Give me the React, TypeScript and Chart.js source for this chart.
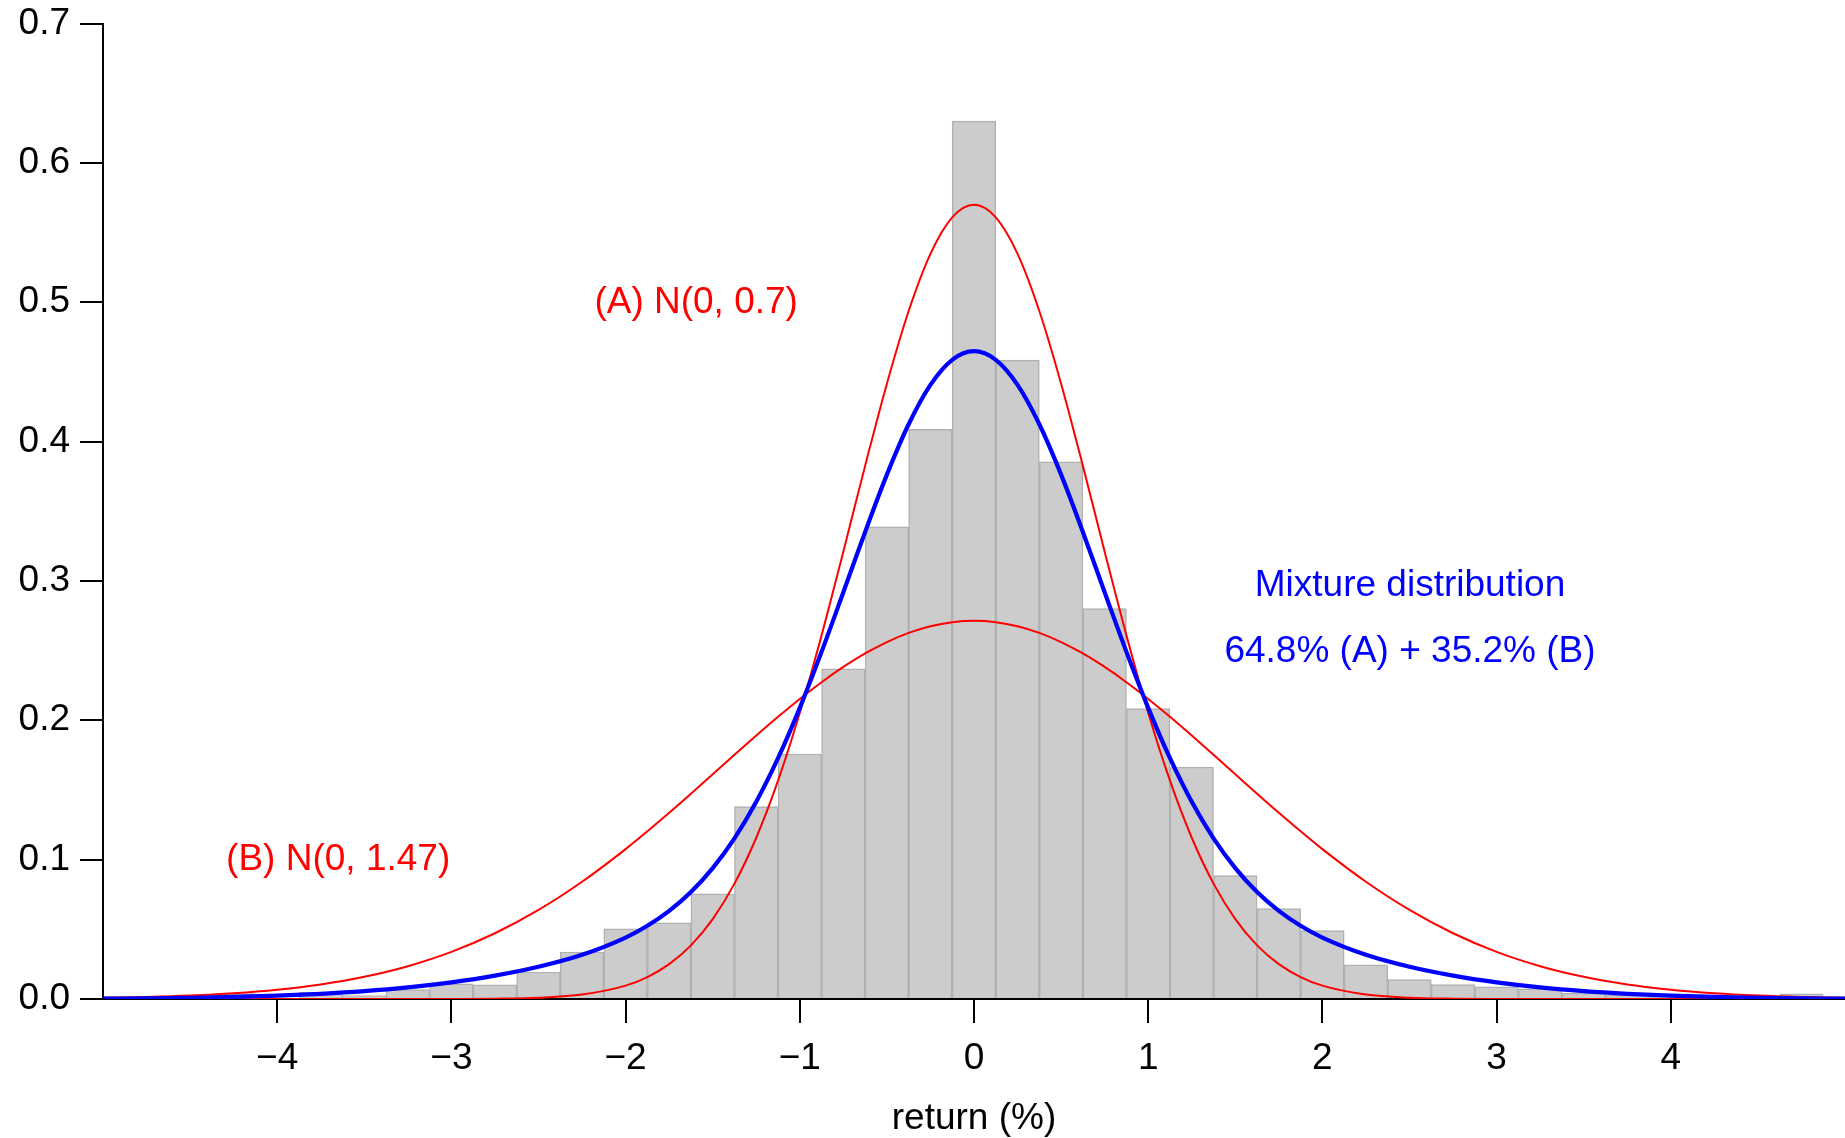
import React, { useEffect, useRef } from 'react';
import { Chart, registerables } from 'chart.js';

Chart.register(...registerables);

// Histogram bins (centre of each 0.25-wide bin) and their densities
const binCenters = [
  -4.25, -4.0, -3.75, -3.5, -3.25, -3.0, -2.75, -2.5, -2.25, -2.0, -1.75, -1.5,
  -1.25, -1.0, -0.75, -0.5, -0.25, 0.0, 0.25, 0.5, 0.75, 1.0, 1.25, 1.5, 1.75,
  2.0, 2.25, 2.5, 2.75, 3.0, 3.25, 3.5, 3.75, 4.0, 4.25, 4.5, 4.75,
];
const binDensity = [
  0.0038, 0.0, 0.0047, 0.0025, 0.0068, 0.0108, 0.0102, 0.0194, 0.0337, 0.0504, 0.0547, 0.0755,
  0.138, 0.1758, 0.237, 0.3388, 0.4087, 0.63, 0.4585, 0.3855, 0.2801, 0.2084, 0.1664, 0.0885, 0.0649,
  0.0491, 0.0245, 0.014, 0.0103, 0.0088, 0.0073, 0.0042, 0.0027, 0.0012, 0.0, 0.0, 0.0037,
];

// Curve sample positions
const curveX = [
  -5, -4.75, -4.5, -4.25, -4, -3.75, -3.5, -3.25, -3, -2.75, -2.5, -2.25,
  -2, -1.875, -1.75, -1.625, -1.5, -1.375, -1.25, -1.125, -1, -0.875, -0.75, -0.625, -0.5, -0.375, -0.25, -0.125,
  0,
  0.125, 0.25, 0.375, 0.5, 0.625, 0.75, 0.875, 1, 1.125, 1.25, 1.375, 1.5, 1.625, 1.75, 1.875, 2,
  2.25, 2.5, 2.75, 3, 3.25, 3.5, 3.75, 4, 4.25, 4.5, 4.75, 5,
];
// (A) N(0, 0.7)
const densityA = [
  0, 0, 0, 0, 0, 0, 0, 0, 0.00006, 0.00025, 0.00097, 0.00325,
  0.00962, 0.01577, 0.02504, 0.03851, 0.05737, 0.08279, 0.11571, 0.15665, 0.20543, 0.26093, 0.32102, 0.38256, 0.44156, 0.49371, 0.53471, 0.5609,
  0.56992,
  0.5609, 0.53471, 0.49371, 0.44156, 0.38256, 0.32102, 0.26093, 0.20543, 0.15665, 0.11571, 0.08279, 0.05737, 0.03851, 0.02504, 0.01577, 0.00962,
  0.00325, 0.00097, 0.00025, 0.00006, 0, 0, 0, 0, 0, 0, 0, 0,
];
// (B) N(0, 1.47)
const densityB = [
  0.00083, 0.00147, 0.0025, 0.00415, 0.0067, 0.01048, 0.01594, 0.02356, 0.03382, 0.04717, 0.0639, 0.08411,
  0.10756, 0.12031, 0.13361, 0.14731, 0.16125, 0.17523, 0.18905, 0.20249, 0.21533, 0.22733, 0.23827, 0.24794, 0.25614, 0.2627, 0.26749, 0.27041,
  0.27139,
  0.27041, 0.26749, 0.2627, 0.25614, 0.24794, 0.23827, 0.22733, 0.21533, 0.20249, 0.18905, 0.17523, 0.16125, 0.14731, 0.13361, 0.12031, 0.10756,
  0.08411, 0.0639, 0.04717, 0.03382, 0.02356, 0.01594, 0.01048, 0.0067, 0.00415, 0.0025, 0.00147, 0.00083,
];
// Mixture 64.8% (A) + 35.2% (B)
const densityMix = [
  0.00029, 0.00052, 0.00088, 0.00146, 0.00236, 0.00369, 0.00561, 0.0083, 0.01194, 0.01677, 0.02312, 0.03172,
  0.04409, 0.05257, 0.06326, 0.07681, 0.09394, 0.11533, 0.14153, 0.17279, 0.20891, 0.2491, 0.29189, 0.33517, 0.37629, 0.4124, 0.44065, 0.45865,
  0.46484,
  0.45865, 0.44065, 0.4124, 0.37629, 0.33517, 0.29189, 0.2491, 0.20891, 0.17279, 0.14153, 0.11533, 0.09394, 0.07681, 0.06326, 0.05257, 0.04409,
  0.03172, 0.02312, 0.01677, 0.01194, 0.0083, 0.00561, 0.00369, 0.00236, 0.00146, 0.00088, 0.00052, 0.00029,
];

const xTicks = [-4, -3, -2, -1, 0, 1, 2, 3, 4];
const yTicks = [0, 0.1, 0.2, 0.3, 0.4, 0.5, 0.6, 0.7];

const annotations = [
  { text: '(A) N(0, 0.7)', x: -1.595, y: 0.4995, color: '#ff0000' },
  { text: '(B) N(0, 1.47)', x: -3.65, y: 0.1, color: '#ff0000' },
  { text: 'Mixture distribution', x: 2.503, y: 0.2968, color: '#0000ff' },
  { text: '64.8% (A) + 35.2% (B)', x: 2.503, y: 0.2495, color: '#0000ff' },
];

const FONT = '"Liberation Sans", Arial, Helvetica, sans-serif';

const textPlugin = {
  id: 'textAnnotations',
  afterDatasetsDraw(chart: any) {
    const { ctx, scales } = chart;
    const xs = scales.x;
    const ys = scales.y;
    ctx.save();
    ctx.font = `37px ${FONT}`;
    ctx.textAlign = 'center';
    ctx.textBaseline = 'middle';
    for (const a of annotations) {
      ctx.fillStyle = a.color;
      ctx.fillText(a.text, xs.getPixelForValue(a.x), ys.getPixelForValue(a.y));
    }
    ctx.restore();
  },
};

export default function App() {
  const ref = useRef<HTMLCanvasElement | null>(null);

  useEffect(() => {
    if (!ref.current) return;
    const chart = new Chart(ref.current, {
      type: 'bar',
      data: {
        datasets: [
          {
            type: 'line',
            label: 'Mixture',
            data: curveX.map((x, i) => ({ x, y: densityMix[i] })),
            borderColor: '#0000ff',
            borderWidth: 4.2,
            pointRadius: 0,
            cubicInterpolationMode: 'monotone',
            fill: false,
            order: 1,
          },
          {
            type: 'line',
            label: 'A',
            data: curveX.map((x, i) => ({ x, y: densityA[i] })),
            borderColor: '#ff0000',
            borderWidth: 2,
            pointRadius: 0,
            cubicInterpolationMode: 'monotone',
            fill: false,
            order: 2,
          },
          {
            type: 'line',
            label: 'B',
            data: curveX.map((x, i) => ({ x, y: densityB[i] })),
            borderColor: '#ff0000',
            borderWidth: 2,
            pointRadius: 0,
            cubicInterpolationMode: 'monotone',
            fill: false,
            order: 3,
          },
          {
            type: 'bar',
            label: 'hist',
            data: binCenters.map((x, i) => ({ x, y: binDensity[i] })),
            backgroundColor: '#cccccc',
            borderColor: '#b1b1b1',
            borderWidth: 1.5,
            borderSkipped: 'bottom',
            barPercentage: 1,
            categoryPercentage: 1,
            order: 4,
          },
        ],
      } as any,
      options: {
        animation: false,
        responsive: false,
        devicePixelRatio: 1,
        layout: { padding: { top: 23.5, left: 0, right: 0, bottom: 0 } },
        plugins: {
          legend: { display: false },
          tooltip: { enabled: false },
        },
        scales: {
          x: {
            type: 'linear',
            min: -5,
            max: 5,
            offset: false,
            grid: {
              offset: false,
              display: true,
              drawOnChartArea: false,
              drawTicks: true,
              tickLength: 24,
              color: '#000000',
              lineWidth: 2,
            },
            border: { display: true, color: '#000000', width: 2 },
            ticks: {
              color: '#000000',
              font: { family: FONT, size: 37 },
              padding: 14,
              maxRotation: 0,
              autoSkip: false,
              callback: (v: any) => (Number(v) < 0 ? '\u2212' + Math.abs(Number(v)) : String(v)),
            },
            afterBuildTicks: (s: any) => {
              s.ticks = xTicks.map((v) => ({ value: v }));
            },
            afterFit: (s: any) => {
              s.height = 139;
              s.paddingLeft = 0;
              s.paddingRight = 0;
            },
            title: {
              display: true,
              text: 'return (%)',
              color: '#000000',
              font: { family: FONT, size: 37 },
              padding: { top: 0, bottom: -2.5 },
            },
          },
          y: {
            type: 'linear',
            min: 0,
            max: 0.7,
            grid: {
              display: true,
              drawOnChartArea: false,
              drawTicks: true,
              tickLength: 23,
              color: '#000000',
              lineWidth: 2,
            },
            border: { display: true, color: '#000000', width: 2 },
            ticks: {
              color: '#000000',
              font: { family: FONT, size: 37 },
              padding: 10,
              autoSkip: false,
              callback: (v: any) => Number(v).toFixed(1),
            },
            afterBuildTicks: (s: any) => {
              s.ticks = yTicks.map((v) => ({ value: v }));
            },
            afterFit: (s: any) => {
              s.width = 103;
              s.paddingTop = 0;
              s.paddingBottom = 0;
            },
          },
        },
      } as any,
      plugins: [textPlugin],
    });
    return () => chart.destroy();
  }, []);

  return (
    <div style={{ position: 'absolute', left: 0, top: 0, width: 1845, height: 1138, background: '#ffffff' }}>
      <canvas ref={ref} width={1845} height={1138} style={{ display: 'block', width: 1845, height: 1138 }} />
    </div>
  );
}
